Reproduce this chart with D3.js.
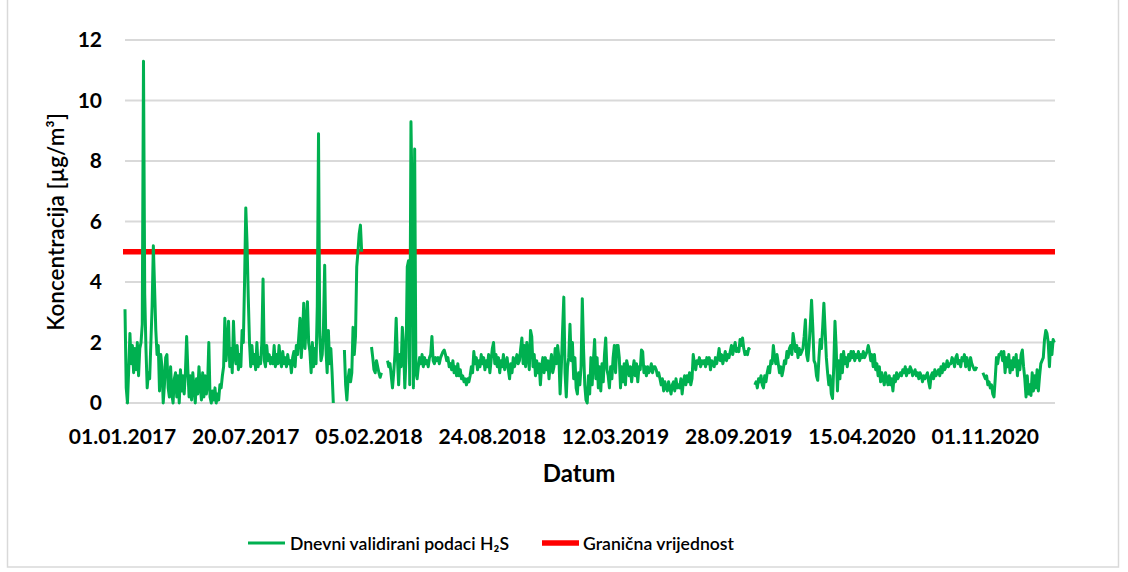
<!DOCTYPE html>
<html><head><meta charset="utf-8">
<script src="https://cdn.jsdelivr.net/npm/d3@7"></script>
<style>
body{margin:0;background:#fff;}
svg text{font-family:Lato,"Open Sans",sans-serif;fill:#000;}
</style></head>
<body><svg id="c" width="1128" height="572"></svg>
<script>
// Daily validated H2S values, one value every 2 days from 01.01.2017 (null = missing)
const h2sValues = [
3.1,0.5,0.0,1.1,2.3,1.3,1.9,1.0,1.8,1.1,
2.0,0.9,1.8,2.0,2.6,11.3,3.6,1.8,0.5,1.0,
0.8,2.0,3.2,5.2,3.8,2.4,1.6,1.9,0.4,1.6,
1.2,0.0,0.6,1.5,1.6,0.5,0.2,1.2,0.3,0.0,
0.8,1.0,0.2,0.9,0.0,1.1,0.4,0.9,0.3,1.0,
2.2,1.1,0.2,0.9,0.1,1.0,0.5,0.0,0.8,0.3,
1.2,0.6,0.1,1.0,0.2,0.9,0.3,0.6,2.0,0.2,
0.0,0.4,0.1,0.5,0.0,0.3,0.1,0.6,0.5,0.9,
1.2,2.8,1.4,2.0,2.7,1.2,1.8,1.0,2.7,1.6,
1.3,1.9,1.1,1.6,1.2,2.4,2.0,4.0,6.45,5.3,
3.5,2.0,1.2,1.9,1.3,1.6,1.1,2.0,1.2,1.5,
1.3,2.0,4.1,1.4,1.2,1.9,1.4,1.6,1.3,1.5,
1.3,1.9,1.2,1.6,1.3,1.9,1.4,1.2,1.7,1.3,
1.5,1.2,1.6,1.3,1.4,1.0,1.5,1.7,1.2,1.9,
1.6,2.2,2.8,1.5,2.2,3.3,1.8,2.6,3.35,2.0,
1.7,1.0,2.0,1.2,1.8,1.3,3.2,8.9,2.2,1.4,
1.6,2.5,4.55,1.8,1.0,2.4,1.3,1.8,1.0,0.0,
null,null,null,null,null,null,null,null,1.75,0.6,
0.1,0.8,1.1,0.7,1.0,2.5,1.6,2.2,4.5,5.0,
5.6,5.88,5.0,null,null,null,null,null,null,null,
1.85,1.5,1.1,1.0,1.4,1.2,1.0,0.85,1.0,null,
null,null,null,1.4,1.2,1.3,0.9,0.5,1.0,1.6,
2.8,1.5,0.6,1.6,1.2,2.5,1.9,0.5,1.5,4.5,
4.7,0.6,9.3,6.5,0.5,8.4,1.0,0.8,1.2,1.5,
1.3,1.6,1.2,1.5,1.3,1.4,1.2,1.5,1.6,2.2,
1.4,1.3,1.5,1.4,1.5,1.3,1.5,1.6,1.7,1.75,
1.6,1.4,1.5,1.2,1.3,1.1,1.4,1.0,1.2,0.9,
1.3,0.9,1.1,0.8,0.9,0.7,0.8,0.6,0.8,0.7,
0.9,1.2,1.0,1.7,1.3,1.5,1.1,1.4,1.2,1.6,
1.3,1.5,1.1,1.4,1.2,1.6,1.0,1.4,1.8,2.0,
1.3,1.6,1.2,1.5,1.0,1.4,1.2,1.6,1.1,1.3,
1.5,1.1,0.8,1.3,1.0,1.5,1.2,1.4,1.6,1.3,
1.4,1.8,2.15,1.3,1.9,1.2,2.0,1.6,1.1,2.4,
2.2,1.2,1.6,0.9,1.4,1.0,1.3,0.6,1.2,1.5,
1.0,1.5,1.1,1.4,0.8,1.3,1.6,1.0,1.2,1.8,
1.3,1.9,1.5,0.3,1.2,2.4,3.5,1.0,0.2,1.2,
1.5,2.6,1.4,2.0,0.8,1.5,0.5,0.3,1.0,0.6,
1.2,3.45,1.8,0.6,0.1,0.0,0.9,0.3,1.5,0.6,
1.4,2.1,0.8,1.5,0.5,1.2,0.4,1.3,0.7,1.6,
2.15,1.1,0.9,0.5,1.2,0.8,1.5,1.9,1.0,1.9,
1.9,1.5,0.5,1.2,0.7,1.3,0.6,1.4,1.2,0.9,
1.2,0.7,1.1,1.4,0.9,1.3,0.7,1.2,1.1,1.75,
1.7,1.0,1.2,0.9,1.2,1.0,1.1,1.3,1.0,1.2,
1.2,1.1,0.9,1.0,0.8,0.6,0.8,0.4,0.7,0.5,
0.4,0.7,0.5,0.3,0.6,0.7,0.4,0.8,0.5,0.6,
0.5,0.8,0.3,0.7,0.9,0.6,0.9,0.7,1.0,0.6,
0.8,1.6,1.3,1.1,1.4,1.3,1.5,1.2,1.4,1.3,
1.4,1.2,1.5,1.3,1.5,1.1,1.4,1.3,1.2,1.5,
1.3,1.5,1.8,1.4,1.6,1.3,1.5,1.7,1.4,1.6,
1.5,1.7,1.9,1.6,1.8,2.0,1.7,1.8,1.7,2.1,
1.9,2.15,1.8,1.6,1.7,1.6,1.8,1.75,null,null,
null,0.6,0.7,0.5,0.8,0.7,0.9,0.6,0.5,0.9,
0.7,1.0,1.2,1.0,1.4,1.3,1.9,1.5,1.3,1.6,
1.3,1.0,1.2,0.9,1.1,1.4,1.3,1.7,1.5,1.8,
1.9,1.6,2.3,2.0,1.7,1.9,1.5,1.8,1.6,1.7,
1.8,2.2,2.75,1.6,1.4,1.9,2.6,3.4,2.5,1.4,
1.3,0.9,0.75,1.5,2.1,1.8,2.5,3.3,2.4,1.5,
1.0,0.6,0.9,0.3,0.15,1.2,2.7,1.8,0.4,1.4,
0.8,1.6,1.0,1.7,1.3,1.5,1.2,1.6,1.4,1.7,
1.5,1.7,1.4,1.6,1.5,1.7,1.4,1.6,1.5,1.7,
1.5,1.6,1.7,1.9,1.7,1.4,1.6,1.2,1.6,1.1,
1.3,0.9,1.2,0.7,1.0,0.8,0.6,1.0,0.8,0.6,
0.9,0.6,0.8,0.4,0.9,0.7,1.0,0.8,0.9,1.0,
0.9,1.1,1.0,1.2,0.9,1.1,1.0,1.2,1.1,0.9,
1.0,1.1,0.9,1.0,0.8,1.0,0.9,0.7,0.9,0.8,
0.9,1.0,0.7,0.5,0.9,1.0,0.8,1.1,0.9,1.0,
1.1,0.9,1.2,1.0,1.3,1.1,1.2,1.4,1.2,1.3,
1.3,1.5,1.4,1.2,1.5,1.6,1.3,1.4,1.2,1.5,
1.4,1.6,1.2,1.5,1.3,1.1,1.5,1.3,1.2,1.1,
1.1,1.2,null,null,null,null,1.0,0.9,0.8,0.9,
0.6,0.7,0.5,0.6,0.3,0.2,0.8,1.5,1.3,1.6,
1.6,1.7,1.4,1.7,1.0,1.5,1.2,1.6,1.0,1.4,
1.1,1.5,1.2,1.6,0.9,1.4,1.1,1.6,1.75,1.2,
0.8,0.2,0.9,0.3,0.6,0.25,1.0,0.4,0.9,0.5,
1.1,0.4,0.9,1.3,1.4,1.5,2.1,2.4,2.3,2.0,
1.2,2.0,1.6,2.1,2.0
];
const stepDays = 2;
const totalDays = 1509;
const tickDays = [0,200,400,600,800,1000,1200,1400];
const tickLabels = ["01.01.2017","20.07.2017","05.02.2018","24.08.2018","12.03.2019","28.09.2019","15.04.2020","01.11.2020"];
const yTicks = [0,2,4,6,8,10,12];
const limitValue = 5;
const seriesNames = ["Dnevni validirani podaci H₂S","Granična vrijednost"];

const svg = d3.select("#c");
const x = d3.scaleLinear().domain([0,totalDays]).range([125,1055]);
const y = d3.scaleLinear().domain([0,12]).range([403,40]);

// border
svg.append("rect").attr("x",7.5).attr("y",-10).attr("width",1111).attr("height",577)
  .attr("fill","none").attr("stroke","#d9d9d9").attr("stroke-width",1.5);

// gridlines
svg.append("g").selectAll("line").data(yTicks).join("line")
  .attr("x1",125).attr("x2",1055).attr("y1",d=>y(d)).attr("y2",d=>y(d))
  .attr("stroke","#d9d9d9").attr("stroke-width",2);

// y axis labels
const ya = svg.append("g").attr("transform","translate(125,0)")
  .call(d3.axisLeft(y).tickValues(yTicks).tickSize(0).tickPadding(23));
ya.select(".domain").remove();
ya.selectAll("text").attr("font-family","Lato").attr("font-weight","bold").attr("font-size",21).attr("fill","#000");

// x axis labels
const xa = svg.append("g").attr("transform","translate(0,403)")
  .call(d3.axisBottom(x).tickValues(tickDays).tickFormat((d,i)=>tickLabels[i]).tickSize(0).tickPadding(26));
xa.select(".domain").remove();
xa.selectAll("text").attr("font-family","Lato").attr("font-weight","bold").attr("font-size",21).attr("fill","#000").attr("dx",-3);

// limit line
svg.append("line").attr("x1",123).attr("x2",1055).attr("y1",y(limitValue)).attr("y2",y(limitValue))
  .attr("stroke","#ff0000").attr("stroke-width",5.5);

// H2S line
const line = d3.line().defined(d=>d!=null).x((d,i)=>x(i*stepDays)).y(d=>y(d));
svg.append("path").datum(h2sValues).attr("d",line)
  .attr("fill","none").attr("stroke","#00b050").attr("stroke-width",3).attr("stroke-linejoin","round");

// axis titles
svg.append("text").attr("transform","translate(64,222) rotate(-90)").attr("text-anchor","middle")
  .attr("font-size",22.5).attr("font-weight","600").text("Koncentracija [µg/m³]");
svg.append("text").attr("x",579).attr("y",482).attr("text-anchor","middle")
  .attr("font-size",24).attr("font-weight","bold").text("Datum");

// legend
const lg = svg.append("g");
lg.append("line").attr("x1",248).attr("x2",285).attr("y1",543).attr("y2",543).attr("stroke","#00b050").attr("stroke-width",3);
lg.append("text").attr("x",290).attr("y",550).attr("font-size",17.6).attr("font-weight","600").text(seriesNames[0]);
lg.append("line").attr("x1",542).attr("x2",579).attr("y1",543).attr("y2",543).attr("stroke","#ff0000").attr("stroke-width",5.5);
lg.append("text").attr("x",583).attr("y",550).attr("font-size",17.6).attr("font-weight","600").text(seriesNames[1]);
</script></body></html>
